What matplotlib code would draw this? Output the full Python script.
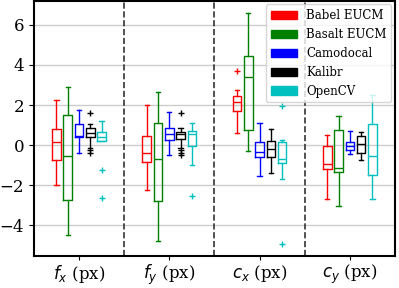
import matplotlib
matplotlib.use("Agg")
import matplotlib.pyplot as plt
from matplotlib.patches import Patch

plt.rcParams['font.family'] = 'DejaVu Serif'

params = [r'$f_x$ (px)', r'$f_y$ (px)', r'$c_x$ (px)', r'$c_y$ (px)']
methods = ['Babel EUCM', 'Basalt EUCM', 'Camodocal', 'Kalibr', 'OpenCV']
colors = ['red', 'green', 'blue', 'black', 'c']

# per method, per parameter: [whislo, q1, med, q3, whishi]
babel = [[-2.0, -0.75, 0.18, 0.8, 2.23],
         [-2.24, -0.86, -0.37, 0.47, 1.98],
         [0.62, 1.69, 2.13, 2.45, 2.75],
         [-2.68, -1.19, -0.92, -0.02, 0.52]]
basalt = [[-4.49, -2.73, -0.52, 1.5, 2.91],
          [-4.81, -2.81, -0.68, 1.12, 2.63],
          [-0.29, 0.75, 3.4, 4.45, 6.6],
          [-3.06, -1.35, -1.15, 0.75, 1.43]]
camodocal = [[-0.39, 0.39, 0.45, 1.06, 1.74],
             [-0.47, 0.28, 0.55, 0.86, 1.67],
             [-1.56, -0.59, -0.36, 0.15, 1.09],
             [-0.42, -0.23, -0.06, 0.18, 0.7]]
kalibr = [[-0.15, 0.39, 0.6, 0.83, 1.06],
          [-0.13, 0.31, 0.55, 0.65, 0.86],
          [-1.4, -0.59, -0.18, 0.23, 0.8],
          [-0.75, -0.39, 0.06, 0.45, 0.65]]
opencv = [[0.2, 0.23, 0.42, 0.67, 1.19],
          [-1.01, -0.05, 0.54, 0.68, 1.09],
          [-1.69, -0.91, -0.68, 0.16, 0.24],
          [-2.7, -1.51, -0.52, 1.07, 2.5]]

babel_out = [[], [], [3.72], []]
basalt_out = [[], [], [], []]
camodocal_out = [[], [], [], []]
kalibr_out = [[1.6, -0.26, -0.37], [1.58, -0.26, -0.39, -0.48], [], []]
opencv_out = [[-1.24, -2.63], [-2.52], [1.95, -4.93], []]

all_stats = [babel, basalt, camodocal, kalibr, opencv]
all_out = [babel_out, basalt_out, camodocal_out, kalibr_out, opencv_out]

fig, ax = plt.subplots(figsize=(3.99, 2.88), dpi=100)

offsets = [-0.25, -0.125, 0.0, 0.125, 0.25]
for m in range(len(methods)):
    stats = []
    for p in range(len(params)):
        s = all_stats[m][p]
        stats.append(dict(whislo=s[0], q1=s[1], med=s[2], q3=s[3],
                          whishi=s[4], fliers=all_out[m][p]))
    pos = [p + 1 + offsets[m] for p in range(len(params))]
    c = colors[m]
    ax.bxp(stats, positions=pos, widths=0.095, manage_ticks=False,
           boxprops=dict(color=c, linewidth=1.0),
           medianprops=dict(color=c, linewidth=1.0),
           whiskerprops=dict(color=c, linewidth=1.0),
           capprops=dict(color=c, linewidth=1.0),
           flierprops=dict(marker='+', markeredgecolor=c, markersize=4,
                           linestyle='none'))

for xv in [1.5, 2.5, 3.5]:
    ax.axvline(xv, color='#333333', linestyle='--', linewidth=1.2)

ax.set_xlim(0.5, 4.5)
ax.set_ylim(-5.55, 7.2)
ax.set_xticks([1, 2, 3, 4])
ax.set_xticklabels(params, fontsize=12)
ax.tick_params(axis='x', pad=1.5, length=3)
ax.set_yticks([-4, -2, 0, 2, 4, 6])
ax.tick_params(axis='y', labelsize=12)
ax.yaxis.grid(True, color='#cccccc', linewidth=1.0)
ax.set_axisbelow(True)
for sp in ax.spines.values():
    sp.set_linewidth(1.5)

handles = [Patch(facecolor=c, edgecolor=c) for c in colors]
ax.legend(handles, methods, loc='upper right', fontsize=8.5,
          handlelength=2.2, borderaxespad=0.3)

plt.subplots_adjust(left=0.085, right=0.99, top=0.997, bottom=0.11)
fig.savefig('out.png', dpi=100)
